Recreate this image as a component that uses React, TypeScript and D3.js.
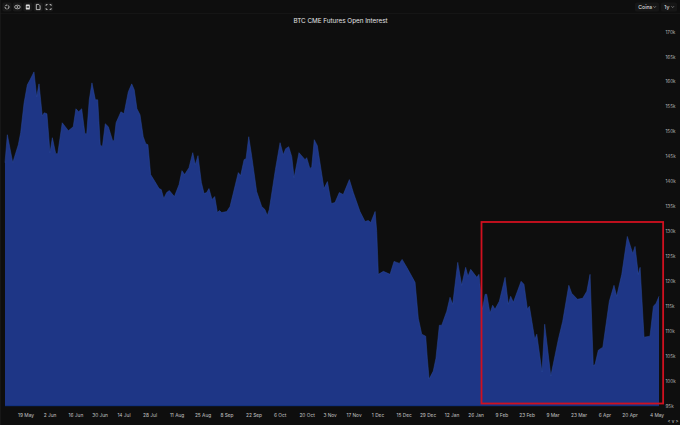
import React from "react";
import * as d3 from "d3";

const W = 680, H = 425;
const chartTitle = "BTC CME Futures Open Interest";
const dayOffsets = [0,1.3,4.3,7.4,8.7,10.6,12.4,13.9,16.1,17.6,18.9,20.7,21.8,23.3,25,26.3,28.2,29.3,31.8,35.2,37.9,39.4,40.9,42.6,44.4,45.4,46.8,48.3,50.2,51.5,52.9,54.1,55.7,57.4,59.8,60.6,61.7,64.4,66.1,68.5,70.4,71.8,73.3,75,76.8,78.2,79.4,80.9,83.3,85.6,86.8,88.2,89.8,91.3,94.1,96.7,98.3,99.8,102.2,104.3,105.7,107.2,109.1,110.6,112,113.3,115,116.5,118,119.1,120.4,123.2,125,129.6,130.9,132.8,133.9,135.4,137.1,139.8,142.6,144.4,145.7,146.8,150.2,152.8,154.6,155.9,157.6,159.3,160.6,163.3,166.7,167.6,169.4,170.4,171.8,173.5,177.2,179.1,181.3,183.3,185.7,187.9,191.3,193.5,197.2,200,201.8,203.2,205.6,206.5,207.4,210.2,213.9,216.1,219.1,220.6,223.2,227.8,229.6,231.5,233.7,234.6,235.6,237.9,239.4,241.3,242.6,245.4,247.2,248.7,251.5,253.7,255.9,257.2,258.7,262.1,263.3,265.2,266.7,267.6,269.4,270.9,272.2,274.6,277.8,279.6,280.9,282.4,286.7,288.3,290.2,291.3,294.3,295.4,298.3,299.8,303.2,307.4,309.8,313.2,314.8,318,320.9,323.2,325,326.8,327.8,329.6,332.1,335.7,338.3,339.8,342.6,345.7,348.7,350,351.8,352.8,355,358.3,360.2,361.7,363.3];
const openInterestK = [143.8,149.4,143.8,147.4,149.8,155.8,159.4,160.4,162,157,159.6,153.2,153.8,153.6,145.8,148.8,145.6,145.6,151.8,150.2,151,154.6,154,154.6,149.6,149.6,156.4,159.8,156.4,156.4,147.4,147,151.6,151,148.2,148.2,151.8,154,153.6,158,159.6,158.4,154.6,153.4,149,147.6,147.4,141.4,140,138.6,138.4,136.6,137.8,138.2,137,139.4,142.2,141.4,142.8,145.8,143.4,145.2,139.8,137.6,137.8,138.6,136.4,137,133.8,134.2,133.8,134,135,141.8,141.2,144.4,144.6,149,145,138,135,134.4,133.2,134.4,142.4,147.8,145.4,146.6,147,145,140.8,145.8,144.4,144.8,142.6,143,148.4,147.2,138.6,140,135.6,135.8,137.8,137.4,140.4,137.8,134,132,132.2,131.8,134,130,121.4,122,121.4,124,123.6,124.4,122.8,119.8,112.6,109.4,109,104.6,100.4,102,104.6,111.2,111.2,114,116.8,115.4,123.8,119.2,122.8,121,122.4,120.8,121.4,114.4,117.4,117.4,113.6,115.2,114.4,116,120.8,115.4,117,115.8,120,119.4,114.4,115,108.4,109.4,101.8,111.4,101,108.4,112,119.2,117.6,116.4,116.6,118,121.4,103,103.4,106.2,106.8,116,119.2,117,121.4,129,125.6,127,121.4,122.8,108.8,109,115,115.6,117];
const yTickValues = [95,100,105,110,115,120,125,130,135,140,145,150,155,160,165,170];
const xTickLabels = ["19 May","2 Jun","16 Jun","30 Jun","14 Jul","28 Jul","11 Aug","25 Aug","8 Sep","22 Sep","6 Oct","20 Oct","3 Nov","17 Nov","1 Dec","15 Dec","29 Dec","12 Jan","26 Jan","9 Feb","23 Feb","9 Mar","23 Mar","6 Apr","20 Apr","4 May"];
const xTickDays = [11.7,25,39.4,52.8,66.1,80.6,95.6,110,123.3,138.3,152.8,167.8,180.6,193.9,207.2,221.7,235,248.3,261.7,276,290,304.4,318.9,333.3,347.2,362.2];
const highlightDays = [264.7,365.6];
const highlightK = [95.5,131.9];
const toolbarSlots = [0,1,2,3,4];

const font = "Inter, 'Noto Sans', sans-serif";
const x = d3.scaleLinear().domain([0, 363.3]).range([5, 659]);
const y = d3.scaleLinear().domain([95, 170]).range([406, 32]);
const points = dayOffsets.map((d, i) => [d, openInterestK[i]] as [number, number]);
const areaPath = d3.area<[number, number]>().x(d => x(d[0])).y0(y(95)).y1(d => y(d[1]))(points) ?? "";
const linePath = d3.line<[number, number]>().x(d => x(d[0])).y(d => y(d[1]))(points) ?? "";

function Icon({ i }: { i: number }) {
  const cx = 7 + i * 10.4, cy = 7;
  return (
    <g>
      <rect x={cx - 4.6} y={cy - 4.6} width={9.2} height={9.2} rx={2} fill="#191919" />
      {i === 0 && <circle cx={cx} cy={cy} r={2} fill="none" stroke="#ddd" strokeWidth={0.8} strokeDasharray="2.4 0.8" />}
      {i === 1 && <ellipse cx={cx} cy={cy} rx={2.8} ry={1.8} fill="none" stroke="#ddd" strokeWidth={0.7} />}
      {i === 1 && <circle cx={cx} cy={cy} r={0.8} fill="#ddd" />}
      {i === 2 && <rect x={cx - 2} y={cy - 2.6} width={4} height={5.2} rx={0.7} fill="#ddd" />}
      {i === 2 && <rect x={cx - 1.2} y={cy - 0.8} width={2.4} height={1.5} fill="#333" />}
      {i === 3 && <path d={`M${cx - 1.9} ${cy - 2.6}h2.4l1.4 1.4v3.8h-3.8z`} fill="none" stroke="#ddd" strokeWidth={0.8} />}
      {i === 4 && <path d={`M${cx - 2.5} ${cy - 1}v-1.5h1.5M${cx + 1} ${cy - 2.5}h1.5v1.5M${cx + 2.5} ${cy + 1}v1.5h-1.5M${cx - 1} ${cy + 2.5}h-1.5v-1.5`} fill="none" stroke="#ddd" strokeWidth={0.7} />}
    </g>
  );
}

function Dropdown({ left, width, label }: { left: number; width: number; label: string }) {
  const c = left + width - 4.3;
  return (
    <g>
      <rect x={left} y={2.6} width={width} height={8.8} rx={1.5} fill="#161616" />
      <text x={left + 3.2} y={9.1} fontSize={5.2} fontWeight={500} fill="#dcdcdc" fontFamily={font}>{label}</text>
      <path d={`M${c - 1.2} 6.3l1.2 1.2l1.2 -1.2`} fill="none" stroke="#bbb" strokeWidth={0.6} />
    </g>
  );
}

export default function App() {
  return (
    <svg width={W} height={H} viewBox={`0 0 ${W} ${H}`}
      style={{ position: "fixed", left: 0, top: 0, display: "block", background: "#0e0e0e" }}>
      <rect width={W} height={H} fill="#0e0e0e" />
      <line x1={0} x2={W} y1={13.5} y2={13.5} stroke="#1b1b1b" strokeWidth={0.6} />
      <line x1={0.5} x2={0.5} y1={0} y2={H} stroke="#1f1f1f" strokeWidth={0.6} />
      {toolbarSlots.map(i => <Icon key={i} i={i} />)}
      <Dropdown left={635} width={24} label="Coins" />
      <Dropdown left={661} width={16} label="1y" />
      <text x={340.5} y={23} textAnchor="middle" fontSize={6.3} fontWeight={400} fill="#e6e6e6" fontFamily={font}>{chartTitle}</text>

      <path d={areaPath} fill="#1e3686" />
      <path d={linePath} fill="none" stroke="#2b4a9f" strokeWidth={0.5} />
      <line x1={x.range()[0]} x2={x.range()[1]} y1={405.7} y2={405.7} stroke="#10307f" strokeWidth={1} />

      {yTickValues.map(v => (
        <text key={v} x={665.5} y={y(v) + 1.6} fontSize={4.6} fill="#b4b4b4" fontFamily={font}>{`${v}k`}</text>
      ))}
      {xTickLabels.map((t, i) => (
        <text key={t} x={x(xTickDays[i])} y={417.4} textAnchor="middle" fontSize={4.8} fill="#c4c4c4" fontFamily={font}>{t}</text>
      ))}
      <text x={673} y={422.5} textAnchor="middle" fontSize={4.6} fill="#cfcfcf" fontFamily={font}>{"< v >"}</text>

      <rect x={x(highlightDays[0])} y={y(highlightK[1])}
        width={x(highlightDays[1]) - x(highlightDays[0])} height={y(highlightK[0]) - y(highlightK[1])}
        fill="none" stroke="#d0101f" strokeWidth={1.8} />
    </svg>
  );
}
